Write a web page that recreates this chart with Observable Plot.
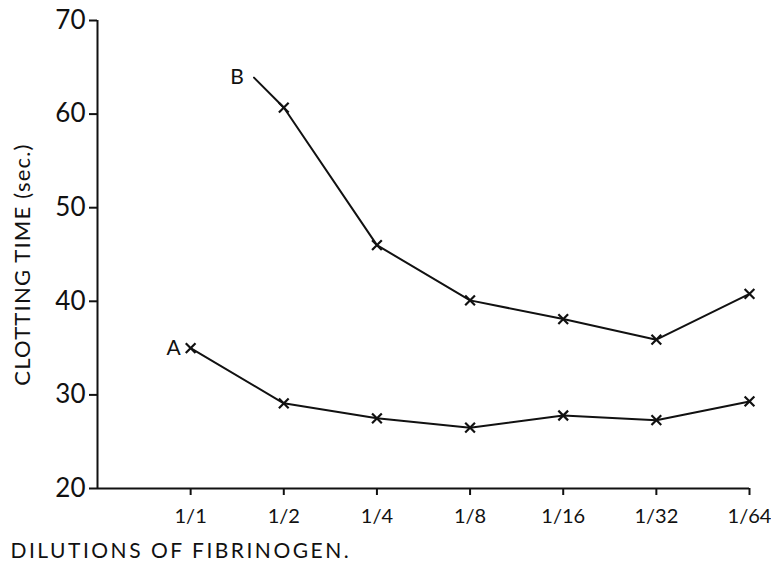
<!DOCTYPE html>
<html>
<head>
<meta charset="utf-8">
<script src="https://cdn.jsdelivr.net/npm/d3@7"></script>
<script src="https://cdn.jsdelivr.net/npm/@observablehq/plot@0.6"></script>
<style>
  html, body { margin: 0; padding: 0; background: #fff; }
  #chart svg { display: block; }
  .spaced text { letter-spacing: 2.5px; }
  .ylab text { letter-spacing: 1.2px; }
</style>
</head>
<body>
<div id="chart"></div>
<script>
// Categories (dilutions of fibrinogen)
const dilutions = ["1/1", "1/2", "1/4", "1/8", "1/16", "1/32", "1/64"];
// Clotting time (sec.) for curve A and curve B
const seriesA = [35.0, 29.1, 27.5, 26.5, 27.8, 27.3, 29.3];
const seriesB = [null, 60.7, 46.0, 40.1, 38.1, 35.9, 40.8];
// Curve B starts before the 1/2 dilution (lead-in point, no marker)
const bLeadPos = 0.68;
const bLeadValue = 63.9;
const yTicks = [20, 30, 40, 50, 60, 70];
const seriesNames = ["A", "B"];
const yTitle = "CLOTTING TIME (sec.)";
const xTitle = "DILUTIONS OF FIBRINOGEN.";

const pointsA = dilutions.map((d, i) => ({pos: i, value: seriesA[i], series: "A"}));
const pointsB = dilutions.map((d, i) => ({pos: i, value: seriesB[i], series: "B"})).filter(d => d.value != null);
const lineB = [{pos: bLeadPos, value: bLeadValue, series: "B"}, ...pointsB];
const labels = [
  {pos: pointsA[0].pos, value: pointsA[0].value, name: seriesNames[0]},
  {pos: lineB[0].pos, value: lineB[0].value, name: seriesNames[1]}
];

const font = "Lato, 'Noto Sans', sans-serif";

const chart = Plot.plot({
  width: 771,
  height: 576,
  marginLeft: 97,
  marginRight: 22,
  marginTop: 20,
  marginBottom: 88,
  style: {fontFamily: font, color: "#111", background: "#fff"},
  x: {domain: [-1, 6], ticks: d3.range(dilutions.length)},
  y: {domain: [20, 70], ticks: yTicks},
  marks: [
    Plot.axisY({
      ticks: yTicks, tickSize: 8, tickPadding: 4, fontSize: 26,
      strokeWidth: 2, label: null
    }),
    Plot.axisX({
      ticks: d3.range(dilutions.length), tickSize: 7, tickPadding: 13, fontSize: 20,
      strokeWidth: 2,
      tickFormat: (i) => dilutions[i], label: null
    }),
    Plot.ruleY([20], {stroke: "#111", strokeWidth: 2}),
    Plot.ruleX([-1], {stroke: "#111", strokeWidth: 2}),
    Plot.line(pointsA, {x: "pos", y: "value", stroke: "#111", strokeWidth: 2}),
    Plot.line(lineB, {x: "pos", y: "value", stroke: "#111", strokeWidth: 2}),
    Plot.dot([...pointsA, ...pointsB], {x: "pos", y: "value", symbol: "times", r: 4.5, stroke: "#111", strokeWidth: 2.2, fill: "white"}),
    Plot.text(labels, {x: "pos", y: "value", text: "name", dx: -17, fontSize: 21, fill: "#111"}),
    Plot.text([yTitle], {frameAnchor: "left", text: d => d, rotate: -90, dx: -75, dy: 10, fontSize: 22, fill: "#111", textAnchor: "middle", className: "ylab"}),
    Plot.text([xTitle], {frameAnchor: "bottom-left", text: d => d, dx: -87, dy: 69, fontSize: 21, fill: "#111", textAnchor: "start", className: "spaced"})
  ]
});
document.getElementById("chart").appendChild(chart);
</script>
</body>
</html>
